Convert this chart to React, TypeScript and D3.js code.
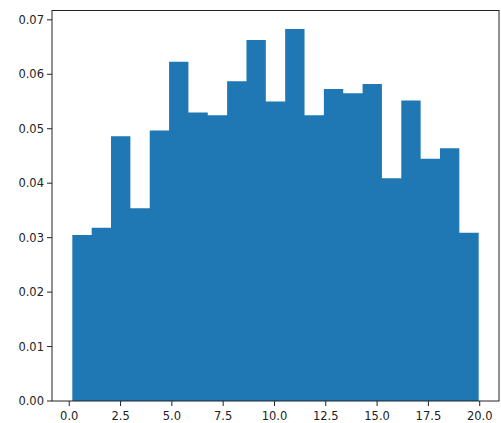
import React from "react";
import * as d3 from "d3";

const binStart = 0.15;
const binEnd = 19.95;
const densities = [
  0.0305, 0.0318, 0.0486, 0.0354, 0.0497, 0.0623, 0.053, 0.0525, 0.0587, 0.0663,
  0.055, 0.0683, 0.0525, 0.0573, 0.0565, 0.0582, 0.0409, 0.0552, 0.0445, 0.0464,
  0.0309,
];
const xTicks = [0, 2.5, 5, 7.5, 10, 12.5, 15, 17.5, 20];
const yTicks = [0, 0.01, 0.02, 0.03, 0.04, 0.05, 0.06, 0.07];

const W = 501;
const H = 423;
const left = 52;
const right = 499;
const top = 10.5;
const bottom = 401;

export default function App() {
  const n = densities.length;
  const bw = (binEnd - binStart) / n;
  const span = binEnd - binStart;
  const x = d3
    .scaleLinear()
    .domain([binStart - span * 0.05, binEnd + span * 0.05])
    .range([left, right]);
  const yMax = d3.max(densities)! * 1.05;
  const y = d3.scaleLinear().domain([0, yMax]).range([bottom, top]);
  const font = "DejaVu Sans, sans-serif";
  const pts: [number, number][] = densities.map((d, i) => [binStart + i * bw, d]);
  pts.push([binEnd, densities[n - 1]]);
  const area = d3
    .area<[number, number]>()
    .x((p) => x(p[0]))
    .y0(y(0))
    .y1((p) => y(p[1]))
    .curve(d3.curveStepAfter);
  return (
    <svg
      width={W}
      height={H}
      style={{ position: "absolute", left: 0, top: 0, background: "#fff" }}
    >
      <path d={area(pts) || ""} fill="#1f77b4" />
      <rect
        x={left}
        y={top}
        width={right - left}
        height={bottom - top}
        fill="none"
        stroke="#222"
        strokeWidth={1}
      />
      {yTicks.map((t) => (
        <g key={t} transform={`translate(0,${y(t)})`}>
          <line x1={left - 5} x2={left} stroke="#222" />
          <text
            x={left - 8}
            dy="0.35em"
            textAnchor="end"
            fontFamily={font}
            fontSize={11.5}
            fill="#222"
          >
            {t.toFixed(2)}
          </text>
        </g>
      ))}
      {xTicks.map((t) => (
        <g key={t} transform={`translate(${x(t)},0)`}>
          <line y1={bottom} y2={bottom + 5} stroke="#222" />
          <text
            y={bottom + 19}
            textAnchor="middle"
            fontFamily={font}
            fontSize={11.5}
            fill="#222"
          >
            {t.toFixed(1)}
          </text>
        </g>
      ))}
    </svg>
  );
}
